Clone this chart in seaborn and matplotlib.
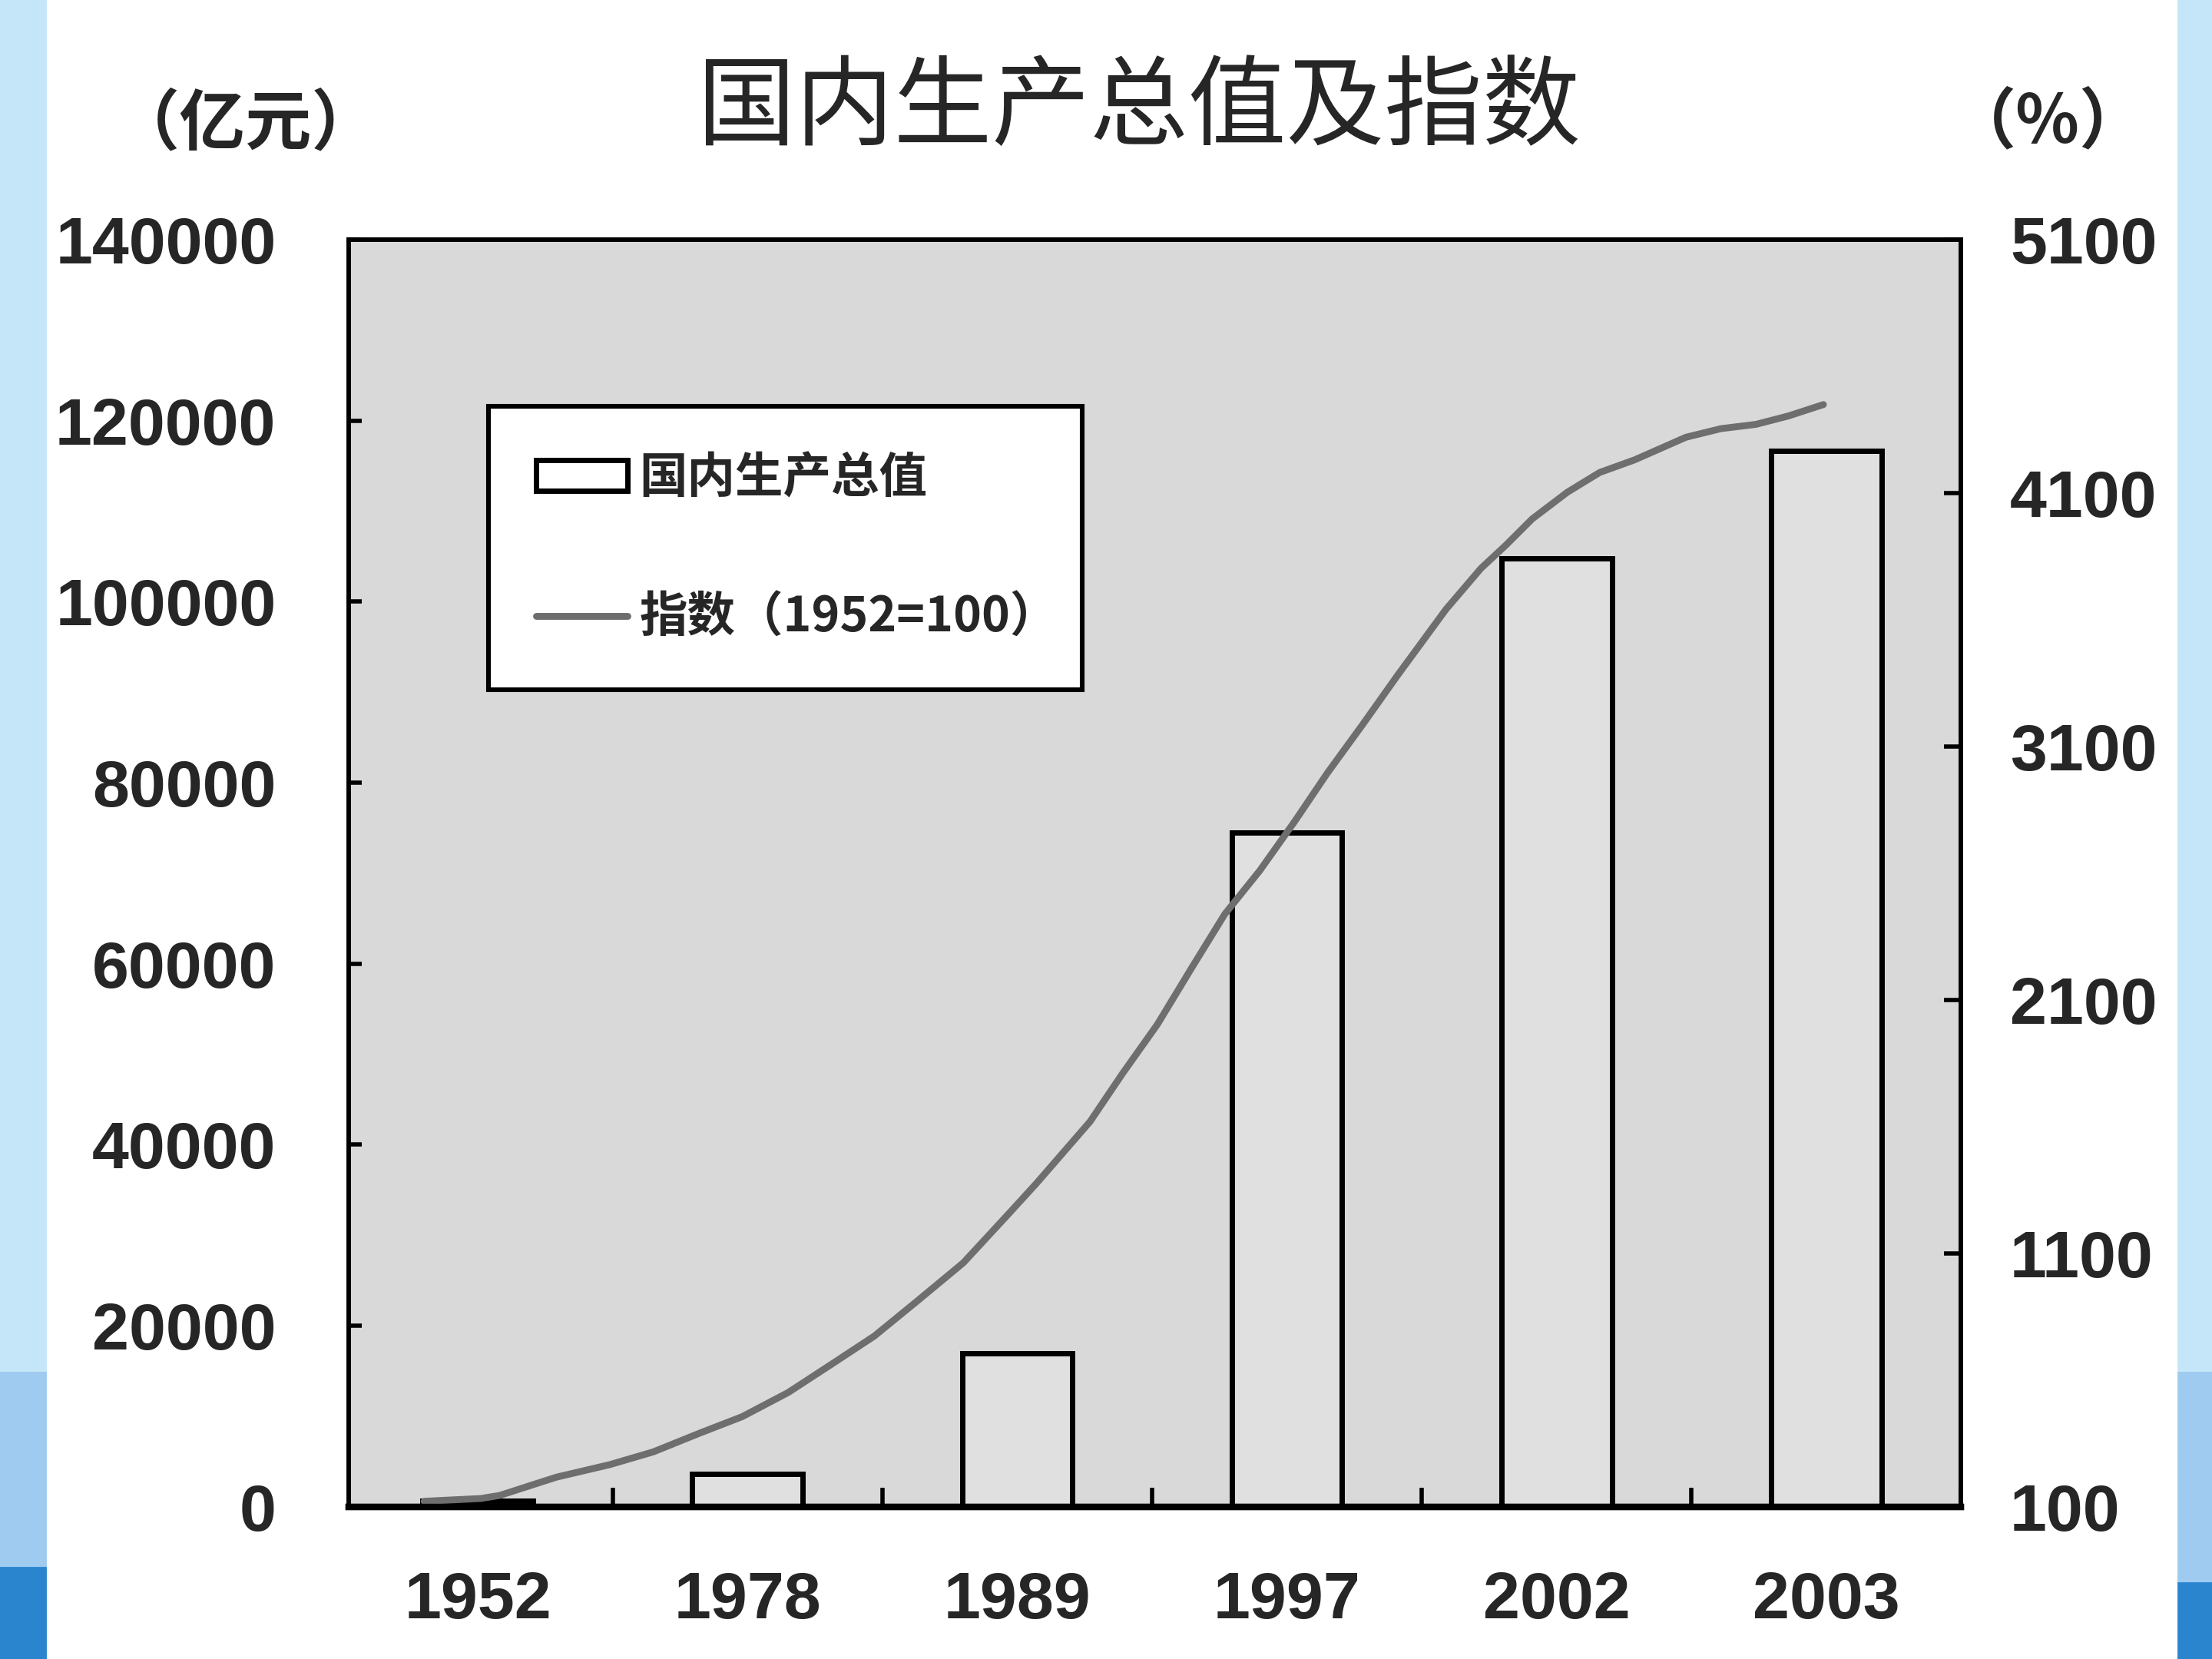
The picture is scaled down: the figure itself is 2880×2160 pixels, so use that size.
import matplotlib
matplotlib.use("Agg")
import matplotlib.pyplot as plt
from matplotlib.patches import Patch, Rectangle
from matplotlib.lines import Line2D
from matplotlib.ticker import MultipleLocator
import pandas as pd
import seaborn as sns

years = ["1952", "1978", "1989", "1997", "2002", "2003"]
gdp = [679, 3645, 16998, 74463, 104791, 116694]

# index curve (x in category units, 0 = 1952)
curve_x = [-0.20, 0.01, 0.08, 0.29, 0.49, 0.65, 0.82, 0.98, 1.15, 1.31, 1.47, 1.63,
           1.80, 1.96, 2.07, 2.27, 2.39, 2.52, 2.65, 2.77, 2.90, 3.03, 3.15, 3.28,
           3.41, 3.59, 3.72, 3.81, 3.91, 4.04, 4.16, 4.29, 4.48, 4.61, 4.74, 4.86, 4.99]
curve_idx = [122, 133, 145, 217, 267, 317, 390, 456, 551, 662, 774, 913,
             1063, 1247, 1375, 1620, 1809, 2004, 2232, 2439, 2611, 2806, 2995, 3185,
             3380, 3641, 3803, 3892, 3998, 4103, 4181, 4231, 4320, 4354, 4371, 4404, 4449]

left_ticks = list(range(0, 140001, 20000))
right_ticks = list(range(100, 5101, 1000))

sns.set_style("ticks")
plt.rcParams["font.family"] = ["Liberation Sans", "Noto Sans CJK SC"]
plt.rcParams["font.weight"] = "bold"
cjk = ["Noto Sans CJK SC", "DejaVu Sans"]

df = pd.DataFrame({"year": years, "gdp": gdp})
curve = pd.DataFrame({"x": curve_x, "idx": curve_idx})

fig = plt.figure(figsize=(14.4, 10.8), dpi=200)
fig.patch.set_facecolor("white")

# blue page edges
fig.patches.append(Rectangle((0, 0.1727), 0.0205, 0.83, transform=fig.transFigure, color="#c5e5f8", zorder=-5))
fig.patches.append(Rectangle((0, 0), 0.0205, 0.1727, transform=fig.transFigure, color="#9ecbef", zorder=-5))
fig.patches.append(Rectangle((0, 0), 0.0205, 0.055, transform=fig.transFigure, color="#2a85ce", zorder=-4))
fig.patches.append(Rectangle((0.9847, 0.1727), 0.02, 0.83, transform=fig.transFigure, color="#c5e5f8", zorder=-5))
fig.patches.append(Rectangle((0.9847, 0), 0.02, 0.1727, transform=fig.transFigure, color="#9ecbef", zorder=-5))
fig.patches.append(Rectangle((0.9847, 0), 0.02, 0.046, transform=fig.transFigure, color="#2a85ce", zorder=-4))

ax = fig.add_axes([0.1576, 0.0917, 0.7289, 0.7639])
ax.set_facecolor("#d9d9d9")
sns.barplot(data=df, x="year", y="gdp", ax=ax, color="#e0e0e0", width=0.41,
            edgecolor="black", linewidth=2.5, saturation=1)
ax.set_xlim(-0.48, 5.5)
ax.set_ylim(0, 140000)
ax.set_yticks(left_ticks)
ax.set_yticklabels([str(t) for t in left_ticks])
ax.set_xlabel("")
ax.set_ylabel("")
ax.xaxis.set_minor_locator(MultipleLocator(1, offset=0.5))
ax.tick_params(axis="x", which="major", length=0, pad=30, labelsize=31)
ax.tick_params(axis="x", which="minor", direction="in", length=9, width=2, color="black")
ax.tick_params(axis="y", direction="in", length=6, width=2, pad=34, labelsize=31, color="black")
for s in ax.spines.values():
    s.set_color("black")
    s.set_linewidth(2)
ax.spines["bottom"].set_linewidth(3)

ax2 = ax.twinx()
sns.lineplot(data=curve, x="x", y="idx", ax=ax2, color="#6e6e6e", linewidth=3.2,
             sort=False, estimator=None)
ax2.set_ylim(100, 5100)
ax2.set_yticks(right_ticks)
ax2.set_yticklabels([str(t) for t in right_ticks])
ax2.set_xlim(-0.48, 5.5)
ax2.set_ylabel("")
ax2.set_xlabel("")
ax2.tick_params(axis="y", direction="in", length=8, width=2, pad=23, labelsize=31, color="black")
for s in ax2.spines.values():
    s.set_color("black")
    s.set_linewidth(2)
ax2.spines["bottom"].set_linewidth(3)

handles = [Patch(facecolor="white", edgecolor="black", linewidth=2.5),
           Line2D([0], [0], color="#6e6e6e", linewidth=3.2)]
labels = ["国内生产总值", "指数（1952=100）"]
leg = ax2.legend(handles, labels, loc="upper left", bbox_to_anchor=(0.0866, 0.6437, 0.3684, 0.2249),
                 mode="expand", borderaxespad=0, borderpad=1.0, labelspacing=1.9,
                 handlelength=1.9, handleheight=0.6, handletextpad=0.25,
                 fancybox=False, framealpha=1, edgecolor="black",
                 prop={"family": cjk, "size": 22.5, "weight": "bold"})
leg.get_frame().set_linewidth(2.2)

fig.text(0.515, 0.934, "国内生产总值及指数", ha="center", va="center", fontsize=46,
         fontweight="normal", family=cjk)
fig.text(0.111, 0.925, "（亿元）", ha="center", va="center", fontsize=31, fontweight="bold", family=cjk)
fig.text(0.926, 0.926, "（%）", ha="center", va="center", fontsize=31, fontweight="bold", family=cjk)

fig.savefig("out.png", dpi=200)
